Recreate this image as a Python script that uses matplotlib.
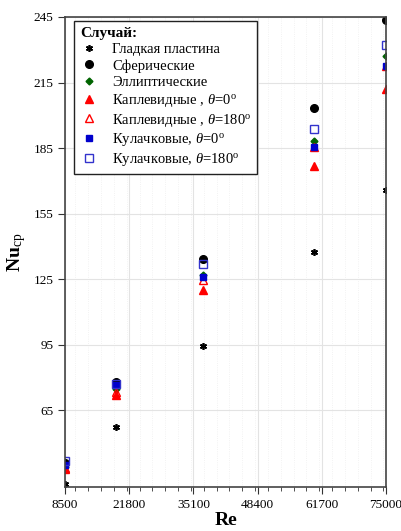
import numpy as np
import matplotlib
matplotlib.use("Agg")
import matplotlib.pyplot as plt
from matplotlib.ticker import MultipleLocator, FixedLocator

plt.rcParams['font.family'] = ['Liberation Serif', 'DejaVu Serif']
plt.rcParams['mathtext.fontset'] = 'custom'
plt.rcParams['mathtext.rm'] = 'Liberation Serif'
plt.rcParams['mathtext.it'] = 'Liberation Serif:italic'
plt.rcParams['mathtext.bf'] = 'Liberation Serif:bold'

# data
re = [8500, 19000, 37000, 60000, 75000]
nu_smooth = [31.4, 57.4, 94.5, 137.7, 165.7]
nu_sphere = [41.0, 78.0, 134.2, 203.5, 243.8]
nu_ellipse = [39.2, 74.6, 126.8, 188.3, 227.0]
nu_drop0 = [38.4, 72.0, 120.1, 176.9, 212.1]
nu_drop180 = [38.8, 73.5, 124.7, 185.6, 222.8]
nu_cam0 = [40.2, 76.5, 126.0, 185.6, 222.8]
nu_cam180 = [41.8, 77.0, 131.9, 193.8, 232.4]

labels = ["Гладкая пластина", "Сферические", "Эллиптические",
          r"Каплевидные , $\theta$=0$^\mathrm{o}$",
          r"Каплевидные , $\theta$=180$^\mathrm{o}$",
          r"Кулачковые, $\theta$=0$^\mathrm{o}$",
          r"Кулачковые, $\theta$=180$^\mathrm{o}$"]
xticks = [8500, 21800, 35100, 48400, 61700, 75000]
yticks = [65, 95, 125, 155, 185, 215, 245]

fig = plt.figure(figsize=(4.02, 5.31), dpi=100)
ax = fig.add_axes([0.162, 0.083, 0.798, 0.885])

ax.plot(re, nu_smooth, ls='none', marker=(6, 2, 0), ms=5, mec='black', mew=1.2, color='black', label=labels[0])
ax.plot(re, nu_sphere, ls='none', marker='o', ms=5.5, color='black', label=labels[1])
ax.plot(re, nu_ellipse, ls='none', marker='D', ms=3.5, color='#006400', label=labels[2])
ax.plot(re, nu_drop0, ls='none', marker='^', ms=5.5, color='#ff0000', label=labels[3])
ax.plot(re, nu_drop180, ls='none', marker='^', ms=5.5, mfc='none', mec='#ff0000', mew=1.0, label=labels[4])
ax.plot(re, nu_cam0, ls='none', marker='s', ms=5, color='#0000cc', label=labels[5])
ax.plot(re, nu_cam180, ls='none', marker='s', ms=6, mfc='none', mec='#3333cc', mew=1.0, label=labels[6])

ax.set_xlim(8500, 75000)
ax.set_ylim(30, 245)
ax.xaxis.set_major_locator(FixedLocator(xticks))
ax.xaxis.set_minor_locator(MultipleLocator(2660))
ax.yaxis.set_major_locator(FixedLocator(yticks))
ax.set_xticklabels([str(v) for v in xticks])
ax.set_yticklabels([str(v) for v in yticks])
ax.tick_params(axis='both', which='major', direction='out', length=5, labelsize=9.5, color='#333333')
ax.tick_params(axis='x', which='minor', direction='out', length=3, color='#333333')
ax.grid(True, which='major', color='#e3e3e3', lw=0.8)
ax.grid(True, which='minor', axis='x', color='#eeeeee', lw=0.6, ls=':')
ax.set_axisbelow(True)
for s in ax.spines.values():
    s.set_color('#444444')
    s.set_linewidth(1.2)

ax.set_xlabel("Re", fontsize=14, fontweight='bold', labelpad=1)
ax.set_ylabel(r"$\mathbf{Nu}_{\mathrm{ср}}$", fontsize=14, labelpad=4)

leg = ax.legend(loc='upper left', bbox_to_anchor=(0.028, 0.991), borderaxespad=0, fontsize=10.5,
                title="Случай:", title_fontproperties={'weight': 'bold', 'size': 11},
                frameon=True, fancybox=False, framealpha=1, edgecolor='#222222',
                handlelength=1.2, handletextpad=1.0, labelspacing=0.2, borderpad=0.4)
leg._legend_box.align = "left"
leg.get_frame().set_linewidth(1.0)

fig.savefig("out.png", dpi=100)
